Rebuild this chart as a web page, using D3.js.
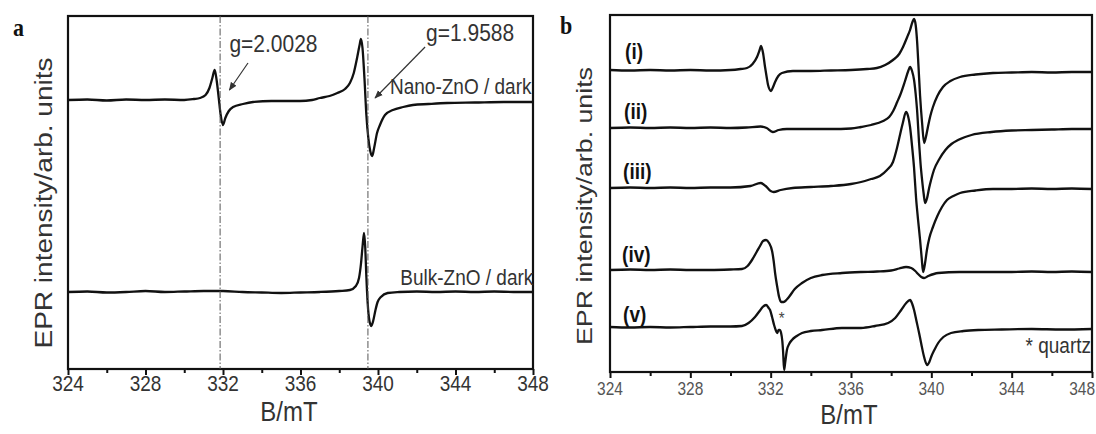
<!DOCTYPE html>
<html>
<head>
<meta charset="utf-8">
<script src="https://cdn.jsdelivr.net/npm/d3@7"></script>
<style>
  body { margin: 0; background: #fff; }
  svg { display: block; font-family: Arial, "Liberation Sans", sans-serif; }
</style>
</head>
<body>
<svg id="chart" width="1096" height="434"></svg>
<script>
// magnetic field axis (mT)
const fieldTicks = [324, 328, 332, 336, 340, 344, 348];
const minorTicks = [326, 330, 334, 338, 342, 346];

// panel a : [B, intensity above the trace's own baseline]
const nanoZnO = [[324,0],[325,0.5],[326,-0.5],[327,0.5],[328,0],[329,0.5],[330,0],[330.5,1],[330.81,2],[331.1,5],[331.3,12],[331.45,22],[331.57,30],[331.67,20],[331.78,2],[331.88,-15],[332.0,-25],[332.12,-18],[332.3,-11],[332.52,-7],[333.03,-4],[333.55,-2],[334.5,-1],[335.97,-1],[336.6,0],[337.0,2],[337.5,4],[337.9,7],[338.3,11],[338.55,17],[338.75,27],[338.92,42],[339.05,55],[339.12,61],[339.2,52],[339.3,22],[339.4,-15],[339.5,-38],[339.6,-51],[339.7,-56],[339.8,-48],[339.95,-33],[340.1,-25],[340.36,-15],[340.77,-10],[341.3,-7],[341.8,-5],[342.6,-4],[343.56,-3],[345,-2.5],[346.5,-2],[348,-2]];
const bulkZnO = [[324,0],[325,0.5],[326,-0.5],[327,0],[328,1],[329,0],[330,0.5],[331,1],[332,1],[333,0],[334,-0.5],[335,-1],[336,-0.5],[337,0],[338,1],[338.55,2],[338.86,6],[339.02,14],[339.12,28],[339.2,45],[339.28,59],[339.34,45],[339.4,15],[339.47,-12],[339.55,-28],[339.65,-34],[339.75,-29],[339.87,-18],[339.98,-10],[340.15,-5],[340.5,-1],[341.1,0],[342,0.5],[343,0],[344,0.5],[345,0],[346,0.5],[347,0],[348,0]];
const offsetsA = [269, 77];
const namesA = ["Nano-ZnO / dark", "Bulk-ZnO / dark"];
const gLines = [331.85, 339.48];
const gLabels = ["g=2.0028", "g=1.9588"];

// panel b
const traceI = [[324,1],[325,0.5],[326,1],[327,0.5],[328,1],[329,0.5],[330,1],[330.5,2],[330.82,3],[331.1,7],[331.32,14],[331.45,21],[331.52,25],[331.62,18],[331.72,4],[331.8,-6],[331.87,-14],[332.02,-20],[332.12,-16],[332.22,-11],[332.38,-5],[332.56,-2],[333.11,0],[334,0],[335,0.5],[336,1],[336.8,2],[337.29,3],[337.7,6],[338.09,11],[338.4,17],[338.59,24],[338.8,34],[338.94,41],[339.06,49],[339.14,52],[339.22,46],[339.29,30],[339.36,5],[339.44,-25],[339.54,-52],[339.64,-72],[339.73,-66],[339.83,-56],[339.95,-45],[340.08,-36],[340.3,-25],[340.58,-16],[340.95,-10],[341.43,-6],[342.2,-3.5],[343.07,-2],[344,-1.5],[345,-1],[346,-1.5],[347,-1],[348,-1]];
const traceII = [[324,0],[325,0.5],[326,0],[327,0.5],[328,0],[329,0.5],[330,0],[330.8,0.5],[331.5,1.5],[331.8,0],[332.1,-4],[332.4,-2],[332.8,-1],[334,-1],[335,-1],[336,-0.5],[336.5,1],[337.0,3],[337.6,7],[337.9,11],[338.1,17],[338.3,26],[338.45,33],[338.69,47],[338.85,57],[338.94,61],[339.04,57],[339.14,48],[339.22,34],[339.29,18],[339.39,-15],[339.46,-35],[339.54,-52],[339.62,-66],[339.69,-75],[339.79,-70],[339.89,-60],[340.0,-51],[340.13,-42],[340.4,-31],[340.7,-22],[341.0,-16],[341.33,-12],[342.0,-7],[343.0,-4],[344,-2.5],[345,-2],[346,-1.5],[347,-1],[348,-1]];
const traceIII = [[324,0],[325,0.5],[326,0],[327,0.5],[328,0],[329,0.5],[330,0.5],[331,2],[331.5,5],[331.75,2],[332.0,-3],[332.15,-4],[332.5,-2],[333.1,0],[334,1],[335,2],[336,4],[336.5,6],[337.0,9],[337.44,12],[337.79,18],[338.09,26],[338.29,40],[338.45,54],[338.58,65],[338.74,76],[338.84,72],[338.94,61],[339.04,42],[339.14,20],[339.24,-10],[339.34,-32],[339.44,-52],[339.52,-70],[339.59,-84],[339.68,-76],[339.78,-62],[339.9,-50],[340.08,-39],[340.3,-28],[340.53,-19],[340.78,-12],[341.1,-8],[341.43,-5],[342.2,-2.5],[343.07,-1],[344,-1],[345,-0.5],[346,-1],[347,-0.5],[348,-1]];
const traceIV = [[324,0],[325,0.5],[326,0],[327,0.5],[328,0],[329,0],[330,0.5],[330.57,1],[330.85,4],[331.07,10],[331.3,18],[331.47,24],[331.62,29],[331.77,30],[331.92,27],[332.07,19],[332.15,9],[332.22,-3],[332.32,-16],[332.42,-27],[332.52,-32],[332.65,-32],[332.78,-30],[332.91,-27],[333.2,-19],[333.56,-13],[334.0,-8],[334.56,-5],[335.55,-3],[336.5,-2],[337.3,-1.5],[338.0,-0.5],[338.4,1.5],[338.74,3],[339.0,2],[339.2,-1],[339.34,-4],[339.5,-7],[339.64,-8],[339.85,-6],[340.34,-3],[341.4,-2],[342.5,-2],[344,-2],[345,-1.5],[346,-2],[347,-1.5],[348,-2]];
const traceV = [[324,0],[325,-0.5],[326,0],[327,-0.5],[328,0],[329,0.5],[330,0.5],[330.57,1],[330.9,4],[331.22,10],[331.45,16],[331.6,20],[331.77,22],[331.9,19],[331.97,17],[332.07,10],[332.17,2],[332.25,-3],[332.32,-6],[332.4,-3],[332.45,-3],[332.52,-6],[332.58,-14],[332.62,-25],[332.67,-43],[332.72,-36],[332.81,-23],[332.92,-17],[333.06,-13],[333.3,-9],[333.56,-6],[334.0,-4],[334.56,-3],[335.55,-1],[336.5,-1],[337.2,1],[337.85,4],[338.2,9],[338.5,17],[338.75,24],[338.94,27],[339.05,23],[339.14,17],[339.26,6],[339.39,-6],[339.5,-17],[339.64,-30],[339.79,-38],[339.9,-35],[339.99,-30],[340.15,-23],[340.34,-16],[340.6,-10],[340.98,-6],[341.6,-4],[342.33,-3],[343.5,-2.5],[345,-2],[346.5,-2.5],[348,-2]];
const offsetsB = [301, 244, 184, 102, 45];
const namesB = ["(i)", "(ii)", "(iii)", "(iv)", "(v)"];

const svg = d3.select("#chart");
const STRETCH = 1.15; // source figure is a bit taller than wide

// horizontal text, stretched like the source
function label(g, x, y, str, size, opts = {}) {
  return g.append("text")
    .attr("transform", `translate(${x},${y}) scale(1,${STRETCH})`)
    .attr("text-anchor", opts.anchor || "start")
    .attr("font-size", size)
    .attr("font-weight", opts.weight || "normal")
    .attr("font-family", opts.family || null)
    .attr("fill", opts.fill || "#333")
    .text(str);
}

// arrow marker
svg.append("defs").append("marker")
  .attr("id", "arr").attr("viewBox", "0 0 10 10")
  .attr("refX", 9).attr("refY", 5)
  .attr("markerWidth", 7).attr("markerHeight", 7)
  .attr("orient", "auto-start-reverse")
  .append("path").attr("d", "M0,1 L10,5 L0,9 z").attr("fill", "#333");

//繪製單一面板
function drawPanel(cfg) {
  const x = d3.scaleLinear().domain([324, 348]).range([cfg.left, cfg.right]);
  const y = d3.scaleLinear().domain([0, cfg.bottom - cfg.top]).range([cfg.bottom, cfg.top]);
  const g = svg.append("g");

  const clipId = "clip" + cfg.name;
  svg.select("defs").append("clipPath").attr("id", clipId)
    .append("rect").attr("x", cfg.left).attr("y", cfg.top)
    .attr("width", cfg.right - cfg.left).attr("height", cfg.bottom - cfg.top);

  // minor + major ticks
  g.append("g").attr("transform", `translate(0,${cfg.bottom})`)
    .call(d3.axisBottom(x).tickValues(minorTicks).tickSize(4).tickFormat(""))
    .call(a => a.select(".domain").remove())
    .call(a => a.selectAll("line").attr("stroke", "#111").attr("stroke-width", 2));
  const ax = g.append("g").attr("transform", `translate(0,${cfg.bottom})`)
    .call(d3.axisBottom(x).tickValues(fieldTicks).tickSize(6).tickFormat(d3.format("d")))
    .call(a => a.select(".domain").remove())
    .call(a => a.selectAll("line").attr("stroke", "#111").attr("stroke-width", 2));
  ax.selectAll("text").remove();
  fieldTicks.forEach((t, i) => {
    const last = i === fieldTicks.length - 1 && cfg.clampLast;
    label(g, last ? 1095 : x(t), cfg.tickY, t, cfg.tickSize,
      { anchor: last ? "end" : "middle", fill: cfg.tickFill });
  });

  const line = d3.line()
    .x(d => x(d[0]))
    .y(d => y(d[1]))
    .curve(d3.curveMonotoneX);

  const traces = g.append("g").attr("clip-path", `url(#${clipId})`);
  cfg.series.forEach((s, i) => {
    traces.append("path")
      .datum(s.map(d => [d[0], d[1] + cfg.offsets[i]]))
      .attr("d", line)
      .attr("fill", "none")
      .attr("stroke", "#111")
      .attr("stroke-width", 2.3)
      .attr("stroke-linejoin", "round");
  });

  // frame
  g.append("rect")
    .attr("x", cfg.left).attr("y", cfg.top)
    .attr("width", cfg.right - cfg.left).attr("height", cfg.bottom - cfg.top)
    .attr("fill", "none").attr("stroke", "#111").attr("stroke-width", 2.2);

  // axis titles
  label(g, cfg.xTitleX, cfg.xTitleY, "B/mT", 24, { anchor: "middle" });
  g.append("text")
    .attr("transform", `translate(${cfg.yTitleX},${cfg.yTitleY}) rotate(-90)`)
    .attr("text-anchor", "middle")
    .attr("font-size", cfg.yTitleSize)
    .attr("textLength", cfg.yTitleLen)
    .attr("lengthAdjust", "spacingAndGlyphs")
    .attr("fill", "#333")
    .text("EPR intensity/arb. units");

  label(svg, cfg.tagX, cfg.tagY, cfg.name, 22,
    { weight: "bold", family: "'Liberation Serif','DejaVu Serif',serif", fill: "#111" });

  return { g, x, y };
}

// ---- panel a ----
const A = drawPanel({
  name: "a", left: 68, right: 533, top: 16, bottom: 369,
  series: [nanoZnO, bulkZnO], offsets: offsetsA,
  tickY: 391, tickSize: 19, tickFill: "#333",
  xTitleX: 289, xTitleY: 421,
  yTitleX: 52, yTitleY: 203, yTitleSize: 23.5, yTitleLen: 291,
  tagX: 13, tagY: 36
});

gLines.forEach(b => {
  A.g.append("line")
    .attr("x1", A.x(b)).attr("x2", A.x(b))
    .attr("y1", A.y(A.y.domain()[1])).attr("y2", A.y(0))
    .attr("stroke", "#555").attr("stroke-width", 1)
    .attr("stroke-dasharray", "7,2,1.5,2");
});

// g-value labels and arrows (data coords)
const gText = [[332.33, 317], [342.48, 328]];
const gArrows = [[[333.29, 306], [332.33, 279]], [[342.43, 322], [339.85, 271]]];
gLabels.forEach((t, i) => {
  label(A.g, A.x(gText[i][0]), A.y(gText[i][1]), t, 21);
  const [p0, p1] = gArrows[i];
  A.g.append("line")
    .attr("x1", A.x(p0[0])).attr("y1", A.y(p0[1]))
    .attr("x2", A.x(p1[0])).attr("y2", A.y(p1[1]))
    .attr("stroke", "#333").attr("stroke-width", 1.2)
    .attr("marker-end", "url(#arr)");
});

const nameAt = [[340.62, 275], [341.15, 84]];
namesA.forEach((t, i) => label(A.g, A.x(nameAt[i][0]), A.y(nameAt[i][1]), t, 19));

// ---- panel b ----
const B = drawPanel({
  name: "b", left: 610, right: 1092, top: 15, bottom: 372,
  series: [traceI, traceII, traceIII, traceIV, traceV], offsets: offsetsB,
  tickY: 395, tickSize: 15.5, tickFill: "#555", clampLast: true,
  xTitleX: 849, xTitleY: 424,
  yTitleX: 592, yTitleY: 206, yTitleSize: 22, yTitleLen: 278,
  tagX: 560, tagY: 34
});

const tagAt = [[324.75, 313], [324.7, 253], [324.65, 193], [324.6, 110], [324.65, 50]];
namesB.forEach((t, i) => label(B.g, B.x(tagAt[i][0]), B.y(tagAt[i][1]), t, 19, { weight: "bold", fill: "#111" }));

label(B.g, B.x(332.55), B.y(48), "*", 15, { anchor: "middle", fill: "#444" });
label(B.g, B.x(348) - 1, B.y(19), "* quartz", 19, { anchor: "end", fill: "#333" });
</script>
</body>
</html>
